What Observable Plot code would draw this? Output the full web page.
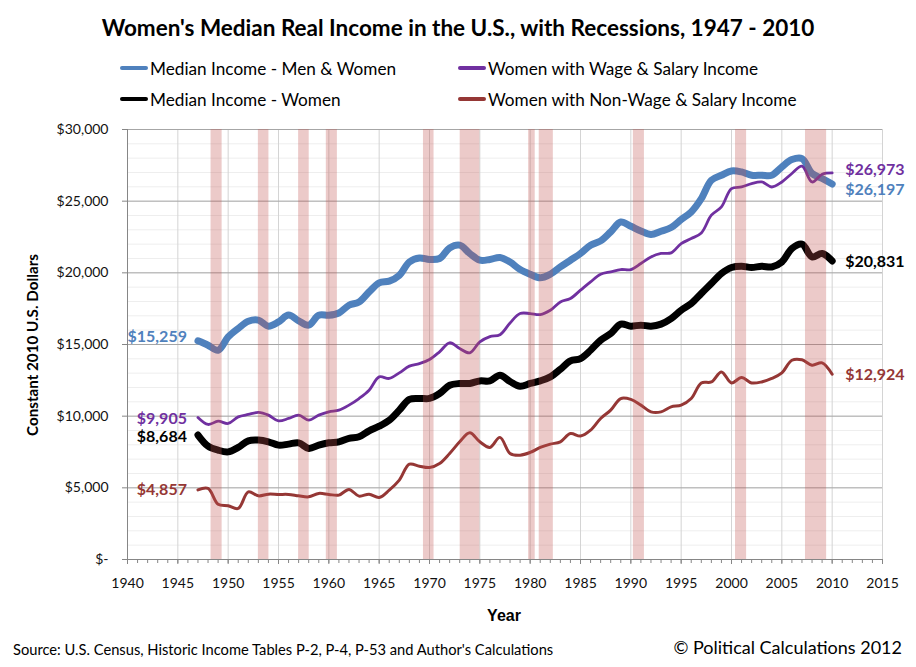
<!DOCTYPE html>
<html>
<head>
<meta charset="utf-8">
<script src="https://cdn.jsdelivr.net/npm/d3@7"></script>
<script src="https://cdn.jsdelivr.net/npm/@observablehq/plot@0.6"></script>
<style>
  body { margin: 0; background: #fff; font-family: Lato, "Open Sans", sans-serif; }
  #wrap { position: relative; width: 916px; height: 667px; overflow: hidden; }
  .abs { position: absolute; white-space: nowrap; }
  #title { top: 14px; left: 0; width: 916px; text-align: center; font-weight: bold; font-size: 22.5px; }
  .leg { font-size: 17.2px; display: flex; align-items: center; height: 22px; }
  .sw { display: inline-block; width: 28px; height: 4px; border-radius: 2px; margin-right: 2px; }
  #chart { position: absolute; top: 110px; left: 0; }
  #ylab { left: 32px; top: 345px; transform: translate(-50%, -50%) rotate(-90deg); font-weight: bold; font-size: 15.2px; }
  #xlab { left: 504px; top: 616px; transform: translate(-50%, -50%); font-weight: bold; font-size: 16px; font-family: "Liberation Sans", Arial, sans-serif; }
  #source { left: 13px; top: 649px; transform: translateY(-50%); font-size: 14.7px; }
  #copy { right: 14px; top: 647px; transform: translateY(-50%); font-size: 18px; }
</style>
</head>
<body>
<div id="wrap">
  <div id="title" class="abs">Women's Median Real Income in the U.S., with Recessions, 1947 - 2010</div>
  <div id="legend"></div>
  <div id="chart"></div>
  <div id="ylab" class="abs">Constant 2010 U.S. Dollars</div>
  <div id="xlab" class="abs">Year</div>
  <div id="source" class="abs">Source: U.S. Census, Historic Income Tables P-2, P-4, P-53 and Author's Calculations</div>
  <div id="copy" class="abs">© Political Calculations 2012</div>
</div>
<script>
// years 1947 - 2010
const years = d3.range(1947, 2011);

// Median Income - Men & Women
const medianAll = [15259, 14950, 14600, 15530, 16120, 16620, 16700, 16280, 16580, 17050,
  16650, 16350, 17040, 17040, 17200, 17740, 17970, 18670, 19300, 19420,
  19830, 20760, 21040, 20930, 21000, 21740, 21930, 21350, 20880, 20930,
  21070, 20750, 20230, 19900, 19650, 19900, 20410, 20880, 21350, 21930,
  22230, 22860, 23550, 23250, 22920, 22670, 22900, 23160, 23720, 24250,
  25180, 26460, 26810, 27110, 27040, 26810, 26810, 26810, 27390, 27900,
  27970, 26930, 26580, 26197];

// Women with Wage & Salary Income
const womenWage = [9905, 9420, 9650, 9490, 9950, 10120, 10260, 10070, 9670, 9840,
  10070, 9720, 10070, 10300, 10420, 10770, 11230, 11810, 12740, 12630,
  13020, 13490, 13670, 13950, 14490, 15120, 14720, 14420, 15180, 15550,
  15680, 16500, 17160, 17160, 17090, 17390, 17970, 18210, 18790, 19370,
  19900, 20070, 20230, 20230, 20650, 21110, 21350, 21390, 22040, 22390,
  22780, 24020, 24600, 25880, 25990, 26230, 26340, 25990, 26340, 26930,
  27440, 26340, 26880, 26973];

// Median Income - Women
const medianWomen = [8684, 7910, 7630, 7510, 7820, 8280, 8330, 8210, 7980, 8050,
  8140, 7750, 7980, 8140, 8210, 8450, 8560, 8980, 9300, 9720,
  10420, 11170, 11240, 11240, 11580, 12160, 12280, 12280, 12460, 12460,
  12860, 12420, 12090, 12280, 12460, 12740, 13270, 13860, 14020, 14600,
  15300, 15770, 16420, 16280, 16350, 16280, 16420, 16810, 17390, 17860,
  18560, 19260, 19950, 20370, 20460, 20370, 20460, 20410, 20760, 21700,
  22000, 21110, 21350, 20831];

// Women with Non-Wage & Salary Income
const womenNonWage = [4857, 4960, 3860, 3750, 3560, 4720, 4440, 4560, 4540, 4540,
  4440, 4370, 4610, 4540, 4490, 4890, 4420, 4560, 4330, 4840,
  5540, 6650, 6510, 6420, 6700, 7400, 8210, 8840, 8210, 7820,
  8520, 7400, 7280, 7470, 7820, 8050, 8210, 8790, 8610, 9020,
  9840, 10420, 11230, 11170, 10770, 10300, 10300, 10650, 10770, 11230,
  12320, 12390, 13090, 12320, 12700, 12320, 12390, 12630, 13020, 13900,
  13930, 13560, 13720, 12924];

// recession bands, as drawn
const recessionStart = [1948.3, 1953.0, 1957.0, 1959.75, 1969.4, 1973.05, 1979.85, 1980.9, 1990.25, 2000.4, 2007.35];
const recessionEnd   = [1949.4, 1954.05, 1958.05, 1960.85, 1970.45, 1975.0, 1980.5, 1982.3, 1991.35, 2001.5, 2009.45];

const yearTicks = d3.range(1940, 2016, 5);
const minorYearTicks = d3.range(1940, 2016);
const dollarTicks = d3.range(0, 30001, 5000);
const minorDollarTicks = d3.range(1000, 30000, 1000);

const series = [
  {name: "Median Income - Men & Women", values: medianAll, color: "#4f81bd", width: 7, dy0: -4, dy1: 6},
  {name: "Women with Wage & Salary Income", values: womenWage, color: "#7030a0", width: 2.8, dy0: 1, dy1: -3},
  {name: "Median Income - Women", values: medianWomen, color: "#000000", width: 7, dy0: 2, dy1: 1},
  {name: "Women with Non-Wage & Salary Income", values: womenNonWage, color: "#953735", width: 3, dy0: 0, dy1: 1}
];

const recessions = recessionStart.map((s, i) => ({start: s, end: recessionEnd[i]}));
const money = d => d === 0 ? "$-" : "$" + d3.format(",")(d);

// legend
const legendPos = [[120, 57], [458, 57], [120, 88], [458, 88]];
const legend = document.getElementById("legend");
series.forEach((s, i) => {
  const el = document.createElement("div");
  el.className = "abs leg";
  el.style.left = legendPos[i][0] + "px";
  el.style.top = legendPos[i][1] + "px";
  el.innerHTML = `<span class="sw" style="background:${s.color}"></span>${s.name}`;
  legend.appendChild(el);
});

const lineMarks = series.map(s => Plot.line(years.map((y, i) => ({year: y, value: s.values[i]})), {
  x: "year", y: "value", stroke: s.color, strokeWidth: s.width, curve: "catmull-rom",
  strokeLinecap: "round", strokeLinejoin: "round"
}));

const startLabels = series.map(s => Plot.text([s], {
  x: () => years[0], y: d => d.values[0], text: d => money(d.values[0]),
  fill: s.color, textAnchor: "end", dx: -11, dy: s.dy0, fontWeight: "bold", fontSize: 16
}));
const endLabels = series.map(s => Plot.text([s], {
  x: () => years[years.length - 1], y: d => d.values[d.values.length - 1], text: d => money(d.values[d.values.length - 1]),
  fill: s.color, textAnchor: "start", dx: 13, dy: s.dy1, fontWeight: "bold", fontSize: 16
}));

const plot = Plot.plot({
  width: 916,
  height: 530,
  marginTop: 19,
  marginBottom: 81,
  marginLeft: 127,
  marginRight: 34,
  x: {domain: [1940, 2015]},
  y: {domain: [0, 30000]},
  style: {fontFamily: "Lato, 'Open Sans', sans-serif", fontSize: "14px", color: "#111", background: "transparent"},
  marks: [
    Plot.ruleY(minorDollarTicks, {stroke: "#eeeeee"}),
    Plot.ruleX(yearTicks.slice(1), {stroke: "#d4d4d4"}),
    Plot.ruleY(dollarTicks.slice(1), {stroke: "#a6a6a6"}),
    ...lineMarks,
    Plot.rect(recessions, {x1: "start", x2: "end", y1: () => 0, y2: () => 30000, fill: "#c0504d", fillOpacity: 0.3}),
    Plot.ruleX([1940], {stroke: "#868686"}),
    Plot.ruleY([0], {stroke: "#868686"}),
    Plot.axisX(minorYearTicks, {tickSize: 4, tickFormat: () => "", label: null, stroke: "#868686"}),
    Plot.axisX(yearTicks, {tickSize: 5, tickPadding: 14, tickFormat: d => String(d), label: null, stroke: "#868686", fontSize: 14}),
    Plot.axisY(dollarTicks, {tickSize: 5, tickPadding: 14, tickFormat: money, label: null, stroke: "#868686", fontSize: 14}),
    ...startLabels,
    ...endLabels
  ]
});

document.getElementById("chart").appendChild(plot);
</script>
</body>
</html>
